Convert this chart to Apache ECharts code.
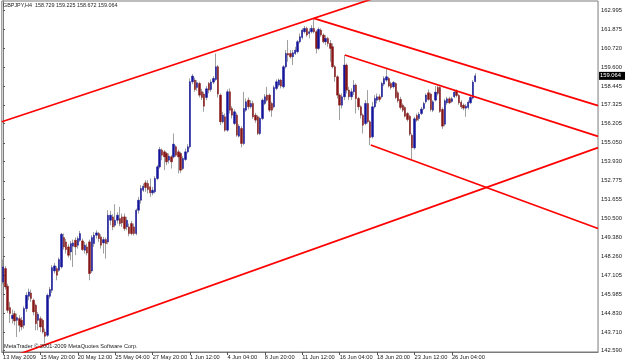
<!DOCTYPE html>
<html><head><meta charset="utf-8">
<script src="https://cdn.jsdelivr.net/npm/echarts@6/dist/echarts.min.js"></script>
<style>html,body{margin:0;padding:0;background:#fff}#c{width:625px;height:362px}</style>
</head><body><div id="c"></div>
<script>
const symbolName = 'GBPJPY,H4';
const timeLabels = ['13 May 2009','15 May 20:00','20 May 12:00','25 May 04:00','27 May 20:00','1 Jun 12:00','4 Jun 04:00','8 Jun 20:00','11 Jun 12:00','16 Jun 04:00','18 Jun 20:00','23 Jun 12:00','26 Jun 04:00'];
const priceTicks = [162.995,161.875,160.720,159.600,158.445,157.325,156.205,155.050,153.930,152.775,151.655,150.500,149.380,148.260,147.105,145.985,144.830,143.710,142.590];

const opens = [
146.71,147.51,146.45,145.17,144.51,144.81,144.41,144.51,144.41,144.11,
145.11,145.85,146.05,145.61,145.31,144.41,144.51,144.41,143.71,143.51,
145.85,146.21,147.37,147.51,147.41,147.61,149.37,149.11,148.81,148.51,
148.85,149.21,148.91,149.21,149.17,148.61,148.81,149.11,147.37,149.01,
149.51,149.61,149.41,149.05,149.25,149.11,150.41,150.61,150.11,150.41,
150.51,150.61,150.61,150.01,150.01,150.21,150.01,149.61,151.01,151.61,
152.21,152.65,152.61,152.41,152.05,152.11,152.91,153.61,154.61,154.51,
154.41,154.01,154.21,154.21,154.81,154.51,154.41,153.51,154.05,154.51,
154.81,158.71,158.81,158.37,158.61,158.11,157.97,157.77,158.61,158.25,
158.69,158.85,159.61,157.91,156.31,156.61,155.81,158.11,157.11,156.21,
156.71,155.45,155.91,155.01,157.01,157.61,157.21,157.41,156.71,156.61,
155.61,156.51,157.41,157.91,157.91,157.41,157.21,158.31,158.51,158.81,
158.41,159.61,160.41,160.41,160.21,160.41,160.51,161.11,161.37,161.71,
161.91,161.61,161.71,161.91,161.71,160.71,161.81,161.51,161.11,161.31,
161.01,160.81,159.61,159.01,157.91,157.31,157.81,159.71,158.21,157.81,
158.11,158.51,157.71,157.21,156.71,156.21,157.41,156.31,155.41,157.21,
157.61,157.81,157.81,158.57,158.81,158.91,158.61,158.41,158.61,158.05,
157.65,157.31,157.17,156.81,156.65,155.51,154.75,156.69,156.51,156.81,
157.11,157.51,158.05,157.97,157.01,157.61,158.37,158.37,157.05,156.17,
157.45,157.69,157.53,157.81,158.17,157.89,157.49,157.31,157.13,157.17,
157.45,157.73,158.729];

const highs = [
148.05,147.65,146.61,145.51,145.05,144.97,144.81,144.71,144.61,145.25,
146.09,146.31,146.25,145.71,145.41,144.91,144.65,144.51,143.91,146.01,
146.41,147.71,147.85,147.65,148.17,149.65,149.61,149.29,148.97,149.17,
149.25,149.37,149.45,149.77,149.31,149.11,149.01,149.25,149.51,149.71,
149.81,149.71,149.57,149.41,149.37,151.01,150.97,150.77,151.37,150.89,
151.21,150.81,150.81,150.61,150.21,150.37,150.21,151.11,151.81,152.51,
152.61,152.81,152.81,152.91,152.41,153.05,153.71,154.81,154.71,154.61,
154.51,154.41,154.31,155.61,154.91,154.65,154.51,154.25,154.71,154.97,
158.91,159.17,158.97,158.81,158.71,158.29,158.11,158.45,158.69,158.85,
159.05,160.41,159.71,158.01,156.91,156.81,158.25,158.31,157.25,157.05,
156.85,156.17,156.05,158.11,157.71,157.77,157.61,157.57,156.85,156.71,
156.61,157.71,157.97,158.41,158.01,157.51,158.49,158.85,158.91,158.89,
159.71,160.61,161.21,160.61,160.61,160.81,161.21,161.61,161.91,162.05,
162.01,161.91,162.11,162.51,161.81,161.97,161.91,161.61,161.51,161.41,
161.21,161.01,159.71,159.11,158.01,158.01,160.31,159.81,158.41,158.31,
158.81,158.61,157.81,157.31,156.81,157.61,158.21,156.41,157.51,157.91,
158.01,157.97,158.71,159.05,159.51,159.01,158.71,158.75,158.67,158.17,
157.81,157.41,157.25,156.89,156.73,155.61,156.61,156.81,156.89,157.21,
157.51,158.01,158.25,158.05,157.61,158.45,158.49,158.45,157.17,157.69,
157.81,157.81,157.81,158.25,158.25,157.97,157.61,157.41,157.37,157.61,
157.89,158.81,159.225];

const lows = [
146.57,146.25,144.85,144.25,144.21,144.11,143.41,143.71,143.81,143.91,
144.91,145.61,145.51,144.71,143.81,143.81,143.71,143.61,143.01,143.41,
145.71,146.05,147.21,146.81,147.31,147.51,148.65,148.41,148.17,148.01,
147.61,148.31,148.71,149.11,148.57,148.41,148.31,146.81,147.25,148.81,
149.31,149.11,148.71,148.41,148.11,148.97,150.11,149.81,149.97,150.21,
150.05,150.01,149.77,149.81,149.45,149.51,149.49,149.51,150.81,151.41,
152.11,152.11,152.01,151.81,151.91,152.01,152.81,153.51,154.01,153.41,
153.71,153.81,153.51,154.11,154.21,153.21,153.25,153.41,153.97,154.41,
154.71,158.57,158.11,158.17,157.77,157.61,156.91,157.61,158.01,158.11,
158.57,158.77,157.77,156.11,156.21,155.71,155.71,156.81,156.51,156.11,
155.41,155.37,154.77,154.91,156.91,157.05,157.11,156.49,156.25,155.51,
155.51,156.41,157.31,157.51,156.89,156.61,157.11,158.21,158.41,158.31,
158.31,159.51,159.91,160.11,159.71,160.31,160.41,161.01,161.25,161.61,
161.41,161.31,161.61,161.61,160.41,160.61,161.41,161.01,160.91,160.81,
159.91,159.51,158.71,157.71,156.41,157.11,157.61,158.01,157.61,157.61,
157.91,156.81,157.01,156.51,155.61,156.11,156.21,154.91,155.31,157.11,
157.41,157.51,157.71,158.45,158.71,158.37,158.25,158.31,157.67,157.45,
157.05,156.89,156.57,156.33,155.45,154.01,154.65,156.31,156.37,156.71,
157.01,157.41,157.57,156.93,156.89,157.53,157.89,156.85,155.89,156.05,
157.33,157.37,157.45,157.73,157.77,157.33,157.09,157.01,156.61,157.05,
157.37,157.65,158.672];

const closes = [
147.61,146.41,145.01,144.81,144.71,144.37,144.57,144.11,144.01,145.11,
145.91,146.11,145.71,144.91,144.21,144.77,144.01,143.71,143.45,145.91,
146.25,147.57,147.67,147.11,148.05,149.57,148.81,148.65,148.31,149.01,
149.05,148.81,149.31,149.61,148.65,148.91,148.45,147.21,149.37,149.51,
149.65,149.31,148.91,149.25,149.01,150.71,150.71,150.01,150.41,150.71,
150.21,150.25,149.91,150.41,149.61,149.61,149.61,151.01,151.61,152.31,
152.45,152.37,152.25,152.05,152.21,152.91,153.61,154.65,154.31,154.21,
153.91,154.25,153.91,154.97,154.31,154.21,153.41,154.11,154.51,154.81,
158.71,159.05,158.25,158.65,157.91,157.77,157.25,158.29,158.21,158.69,
158.91,159.61,157.97,156.31,156.71,155.81,158.11,157.01,156.71,156.91,
155.51,156.05,155.01,157.11,157.51,157.21,157.41,156.61,156.41,155.61,
156.51,157.61,157.81,157.61,157.01,157.01,158.37,158.71,158.81,158.45,
159.61,160.41,160.31,160.21,160.45,160.61,161.11,161.41,161.81,161.91,
161.51,161.71,161.91,161.71,160.71,161.85,161.51,161.11,161.31,161.01,
160.71,159.61,159.01,157.91,157.31,157.81,159.71,158.21,157.81,158.11,
158.51,157.71,157.21,156.71,156.11,157.41,156.31,155.37,157.21,157.71,
157.81,157.65,158.61,158.91,159.01,158.45,158.37,158.67,157.77,157.57,
157.17,157.01,156.65,156.45,155.57,154.75,156.49,156.41,156.77,157.07,
157.41,157.91,157.65,157.05,157.51,158.09,158.01,156.93,156.05,157.57,
157.69,157.45,157.69,158.09,157.89,157.45,157.21,157.13,157.25,157.49,
157.77,158.69,159.064];

// trendlines: [barIndex, price] endpoints
const upperRising = [[-0.5,156.31],[170,164.24]];
const lowerRising = [[0,142.04],[254.5,154.76]];
const upperFalling = [[133,162.515],[254.5,157.28]];
const middleFalling = [[146.2,160.315],[254.5,155.44]];
const lowerFalling = [[157.3,154.92],[254.5,149.91]];

const totalSlots = 255;
const barsPerLabel = 16;

const cats = [];
for (let i = 0; i < totalSlots; i++) cats.push(String(i));
const wickData = [], bodyData = [];
for (let i = 0; i < opens.length; i++) {
  wickData.push([opens[i], closes[i], lows[i], highs[i]]);
  bodyData.push([opens[i], closes[i], Math.min(opens[i], closes[i]), Math.max(opens[i], closes[i])]);
}
const n = opens.length - 1;
const headText = symbolName + '  ' + opens[n].toFixed(3) + ' ' + highs[n].toFixed(3) + ' ' + lows[n].toFixed(3) + ' ' + closes[n].toFixed(3);
const showIdx = (idx) => idx % barsPerLabel === 0 && idx / barsPerLabel < timeLabels.length;
const FONT = 'Liberation Sans, Arial, sans-serif';
const RED = '#ff0000';

const lineSeries = (d) => ({
  type: 'line', xAxisIndex: 1, yAxisIndex: 0, data: d, symbol: 'none', silent: true,
  lineStyle: { color: RED, width: 1.7 }, z: 5, clip: true, animation: false
});

const chart = echarts.init(document.getElementById('c'), null, { renderer: 'canvas' });
chart.setOption({
  animation: false,
  backgroundColor: '#ffffff',
  title: [
    { text: headText, left: 3, top: 3, padding: 0, textStyle: { fontFamily: FONT, fontSize: 5.4, fontWeight: 'normal', color: '#222' } },
    { text: 'MetaTrader © 2001-2009 MetaQuotes Software Corp.', left: 4, top: 343.5, padding: 0, textStyle: { fontFamily: FONT, fontSize: 5.6, fontWeight: 'normal', color: '#222' } }
  ],
  grid: { left: 1, top: 1, right: 23, bottom: 10, show: true, borderColor: '#7a7a7a', borderWidth: 1, backgroundColor: '#ffffff' },
  xAxis: [
    { type: 'category', data: cats, boundaryGap: true,
      axisLine: { show: true, lineStyle: { color: '#7a7a7a', width: 1 } },
      axisTick: { show: true, length: 3, alignWithLabel: true, interval: showIdx, lineStyle: { color: '#555' } },
      axisLabel: { show: true, interval: showIdx, align: 'left', margin: 2, fontFamily: FONT, fontSize: 5.7, color: '#222',
        formatter: (v, idx) => timeLabels[idx / barsPerLabel] },
      splitLine: { show: false } },
    { type: 'value', min: -0.5, max: totalSlots - 0.5, show: false }
  ],
  yAxis: [{
    type: 'value', position: 'right', min: 142.509, max: 163.553, scale: true,
    axisLine: { show: true, lineStyle: { color: '#7a7a7a', width: 1 } },
    axisTick: { show: true, length: 2, customValues: priceTicks, lineStyle: { color: '#555' } },
    axisLabel: { show: true, customValues: priceTicks, margin: 3, fontFamily: FONT, fontSize: 5.8, color: '#222',
      formatter: (v) => Number(v).toFixed(3) },
    splitLine: { show: false }
  }],
  series: [
    { type: 'candlestick', name: 'wick', data: wickData, barWidth: 0.6, silent: true, z: 2,
      itemStyle: { color: '#a0a0a0', color0: '#a0a0a0', borderColor: '#a0a0a0', borderColor0: '#a0a0a0', borderColorDoji: '#a0a0a0', borderWidth: 1 } },
    { type: 'candlestick', name: 'body', data: bodyData, barWidth: 1.9, silent: true, z: 3,
      itemStyle: { color: '#14149a', color0: '#861616', borderColor: '#14149a', borderColor0: '#861616', borderColorDoji: '#888888', borderWidth: 0.5 } },
    { type: 'line', name: 'lastPrice', data: [[0, closes[n]], [totalSlots - 0.5, closes[n]]], xAxisIndex: 1, yAxisIndex: 0,
      symbol: 'none', silent: true, z: 6, clip: false, lineStyle: { width: 0, color: 'rgba(0,0,0,0)' },
      endLabel: { show: true, distance: 1, formatter: () => closes[n].toFixed(3), fontFamily: FONT, fontSize: 5.8,
        color: '#ffffff', backgroundColor: '#000000', padding: [1, 4, 1, 1] } },
    lineSeries(upperRising),
    lineSeries(lowerRising),
    lineSeries(upperFalling),
    lineSeries(middleFalling),
    lineSeries(lowerFalling)
  ]
});
</script>
</body></html>
